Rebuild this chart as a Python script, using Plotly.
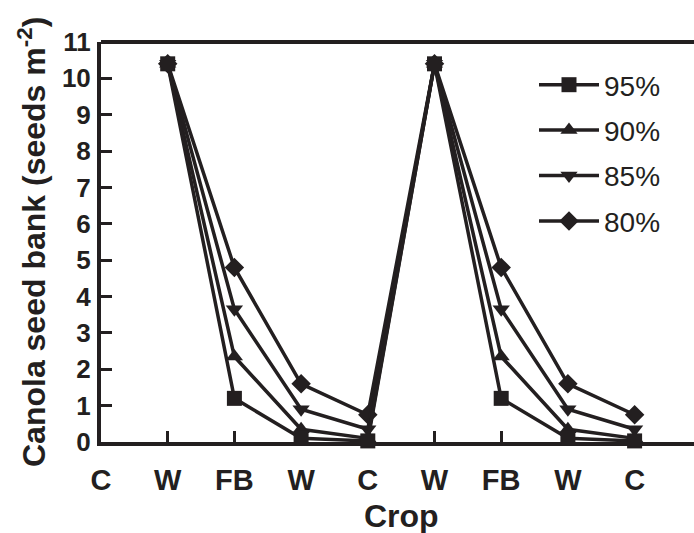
import plotly.graph_objects as go

crops = ["C", "W", "FB", "W", "C", "W", "FB", "W", "C"]
x_pos = [1, 2, 3, 4, 5, 6, 7, 8]
y_ticks = list(range(0, 12))

series_names = ["95%", "90%", "85%", "80%"]
s95 = [10.4, 1.2, 0.1, 0.03, 10.4, 1.2, 0.1, 0.03]
s90 = [10.4, 2.35, 0.35, 0.1, 10.4, 2.35, 0.35, 0.1]
s85 = [10.4, 3.65, 0.9, 0.35, 10.4, 3.65, 0.9, 0.35]
s80 = [10.4, 4.8, 1.6, 0.75, 10.4, 4.8, 1.6, 0.75]
symbols = ["square", "triangle-up", "triangle-down", "diamond"]

INK = "#231f20"
FONT = "Liberation Sans, Arial, sans-serif"
W, H = 694, 533
L, T, B = 101, 42, 91
PX_PER_CAT = 66.7

fig = go.Figure()
data = [s95, s90, s85, s80]
entries = list(zip(series_names, data, symbols))
# draw 80% first so 95% ends on top; legendrank keeps 95% listed first
for rank in range(len(entries) - 1, -1, -1):
    name, vals, sym = entries[rank]
    fig.add_trace(go.Scatter(
        x=x_pos, y=vals, name=name, mode="lines+markers",
        line=dict(color=INK, width=3.5),
        marker=dict(symbol=sym, size=15, color=INK, line=dict(width=0)),
        cliponaxis=False, legendgroup=name, legendrank=rank + 1,
    ))

fig.update_layout(
    width=W, height=H,
    margin=dict(l=L, r=0, t=T, b=B, autoexpand=False),
    plot_bgcolor="white", paper_bgcolor="white",
    font=dict(family=FONT, color=INK),
    showlegend=True,
    legend=dict(
        xref="container", yref="container",
        x=534 / W, y=1 - 60 / H, xanchor="left", yanchor="top",
        traceorder="grouped", tracegroupgap=6,
        itemwidth=60, bgcolor="rgba(0,0,0,0)",
        font=dict(size=28, family=FONT, color=INK),
    ),
    xaxis=dict(
        range=[0, (W - L) / PX_PER_CAT],
        tickmode="array", tickvals=list(range(0, 9)), ticktext=crops,
        ticks="inside", ticklen=11, tickwidth=3, tickcolor=INK,
        showline=True, linewidth=4, linecolor=INK, mirror=False,
        showgrid=False, zeroline=False,
        tickfont=dict(size=29, family=FONT, color=INK, weight="bold"),
        ticklabelstandoff=9,
    ),
    yaxis=dict(
        range=[0, 11], tickmode="array", tickvals=y_ticks,
        ticks="inside", ticklen=11, tickwidth=3, tickcolor=INK,
        showline=True, linewidth=4, linecolor=INK, mirror=False,
        showgrid=False, zeroline=False,
        tickfont=dict(size=26, family=FONT, color=INK, weight="bold"),
        ticklabelstandoff=1,
    ),
    shapes=[
        dict(type="line", xref="paper", yref="paper", x0=0, x1=1, y0=1, y1=1,
             line=dict(color=INK, width=4)),
    ],
    annotations=[
        dict(text="Canola seed bank (seeds m<sup>-2</sup>)", xref="paper", yref="paper",
             x=(32 - L) / (W - L), y=0.5, xanchor="center", yanchor="middle",
             textangle=-90, showarrow=False,
             font=dict(size=32, family=FONT, color=INK, weight="bold")),
        dict(text="Crop", xref="paper", yref="paper",
             x=(401 - L) / (W - L), y=(442 - 516) / 400, xanchor="center", yanchor="middle",
             showarrow=False,
             font=dict(size=32, family=FONT, color=INK, weight="bold")),
    ],
)

fig.write_html("out.html")
